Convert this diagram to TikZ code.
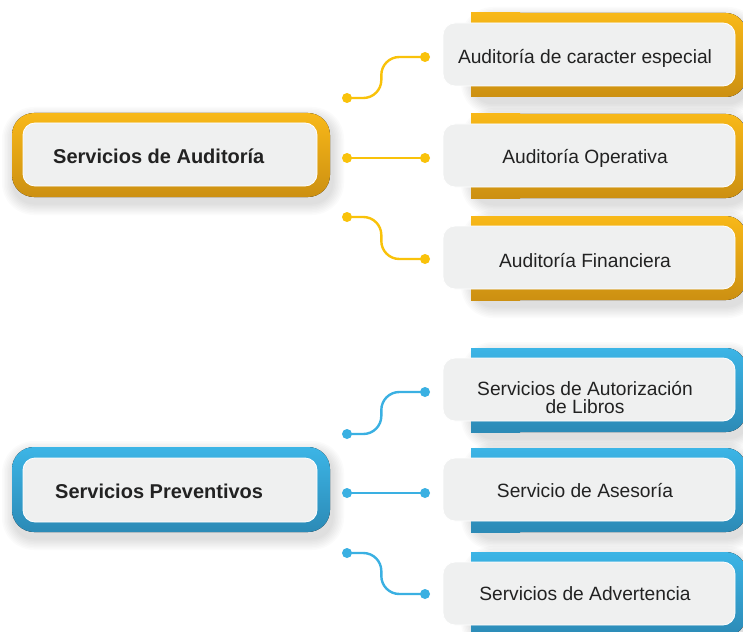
\documentclass[tikz,border=0pt]{standalone}
\usepackage{fontspec}
\setmainfont{Liberation Sans}
\usetikzlibrary{calc}
\definecolor{oTop}{HTML}{F8B818}
\definecolor{oBot}{HTML}{CC9012}
\definecolor{bTop}{HTML}{3CB5E6}
\definecolor{bBot}{HTML}{2C8AB6}
\definecolor{oLine}{HTML}{F9C20A}
\definecolor{bLine}{HTML}{3AB0E2}
\definecolor{boxfill}{HTML}{EFF0F0}
\definecolor{txt}{HTML}{222222}
\tikzset{
  ograd/.style={top color=oTop, bottom color=oBot},
  bgrad/.style={top color=bTop, bottom color=bBot},
  hazestep/.style={fill=black, opacity=0.016},
  innerbox/.style={draw=white, line width=0.8pt, fill=boxfill, rounded corners=12pt, inner sep=0pt},
  itemtext/.style={font=\fontsize{19.2}{18}\selectfont, text=txt, inner sep=0pt},
  maintext/.style={font=\fontsize{20}{22}\selectfont\bfseries, text=txt, inner sep=0pt},
  dot/.style={circle, minimum size=10pt, inner sep=0pt},
  conn/.style={line width=2.4pt, rounded corners=18pt}
}
% soft shadow made of stacked translucent rounded rectangles
\newcommand\haze[4]{% x1,y1,x2,y2
  \foreach \k in {1,...,8}{
    \fill[hazestep, rounded corners=20pt+1.5*\k pt]
      (#1-1.5*\k+2, #2-1.5*\k+6) rectangle (#3+1.5*\k+2, #4+1.5*\k+6);
  }
}
\newcommand\ritem[6]{% #1 name, #2 scheme, #3 inner top y, #4 baseline y, #5 text, #6 extra
  \haze{471}{#3-10}{746}{#3+74}
  \fill[#2grad, rounded corners=20pt] (471,#3-10) rectangle (746,#3+74);
  \fill[#2grad] (471,#3-10) rectangle (520,#3+74);
  \node[innerbox, minimum width=292pt, minimum height=63pt] (#1) at (589,#3+31.5) {};
  \node[itemtext, anchor=base, #6] (#1t) at (585,#4) {#5};
}
\newcommand\scurve[3]{% #1 colour, #2 from, #3 to
  \coordinate (#2#3m) at ($(#2)!.44!(#3)$);
  \draw[conn, #1] (#2.center) -- (#2 -| #2#3m) -- (#3 -| #2#3m) -- (#3.center);
}
\begin{document}
\begin{tikzpicture}[x=1pt, y=-1pt]
\useasboundingbox (0,0) rectangle (743,631);
\fill[white] (0,0) rectangle (743,631);
\clip (0,0) rectangle (743,631);

% ---------- Auditoria group ----------
\haze{12}{113}{330}{197}
\fill[ograd, rounded corners=22pt] (12,113) rectangle (330,197);
\node[innerbox, minimum width=294pt, minimum height=63pt] (m1) at (170,154.5) {};
\node[maintext, anchor=base west] (m1t) at (53,164) {Servicios de Auditoría};

\ritem{r1}{o}{23}{64}{Auditoría de caracter especial}{}
\ritem{r2}{o}{124}{164}{Auditoría Operativa}{}
\ritem{r3}{o}{226}{267}{Auditoría Financiera}{}

\node[dot, fill=oLine] (a1) at (347,98) {};
\node[dot, fill=oLine] (b1) at (425,57) {};
\node[dot, fill=oLine] (a2) at (347,158) {};
\node[dot, fill=oLine] (b2) at (425,158) {};
\node[dot, fill=oLine] (a3) at (347,217) {};
\node[dot, fill=oLine] (b3) at (425,259) {};
\scurve{oLine}{a1}{b1}
\draw[conn, oLine] (a2.center) -- (b2.center);
\scurve{oLine}{a3}{b3}

% ---------- Preventivos group ----------
\haze{12}{447}{330}{532}
\fill[bgrad, rounded corners=22pt] (12,447) rectangle (330,532);
\node[innerbox, minimum width=294pt, minimum height=64pt] (m2) at (170,490) {};
\node[maintext, anchor=base west] (m2t) at (55,498) {Servicios Preventivos};

\ritem{r4}{b}{358}{413}{Servicios de Autorización\\de Libros}{align=center}
\ritem{r5}{b}{458}{497}{Servicio de Asesoría}{}
\ritem{r6}{b}{562}{600}{Servicios de Advertencia}{}

\node[dot, fill=bLine] (a4) at (347,434) {};
\node[dot, fill=bLine] (b4) at (425,392) {};
\node[dot, fill=bLine] (a5) at (347,493) {};
\node[dot, fill=bLine] (b5) at (425,493) {};
\node[dot, fill=bLine] (a6) at (347,553) {};
\node[dot, fill=bLine] (b6) at (425,594) {};
\scurve{bLine}{a4}{b4}
\draw[conn, bLine] (a5.center) -- (b5.center);
\scurve{bLine}{a6}{b6}
\end{tikzpicture}
\end{document}
